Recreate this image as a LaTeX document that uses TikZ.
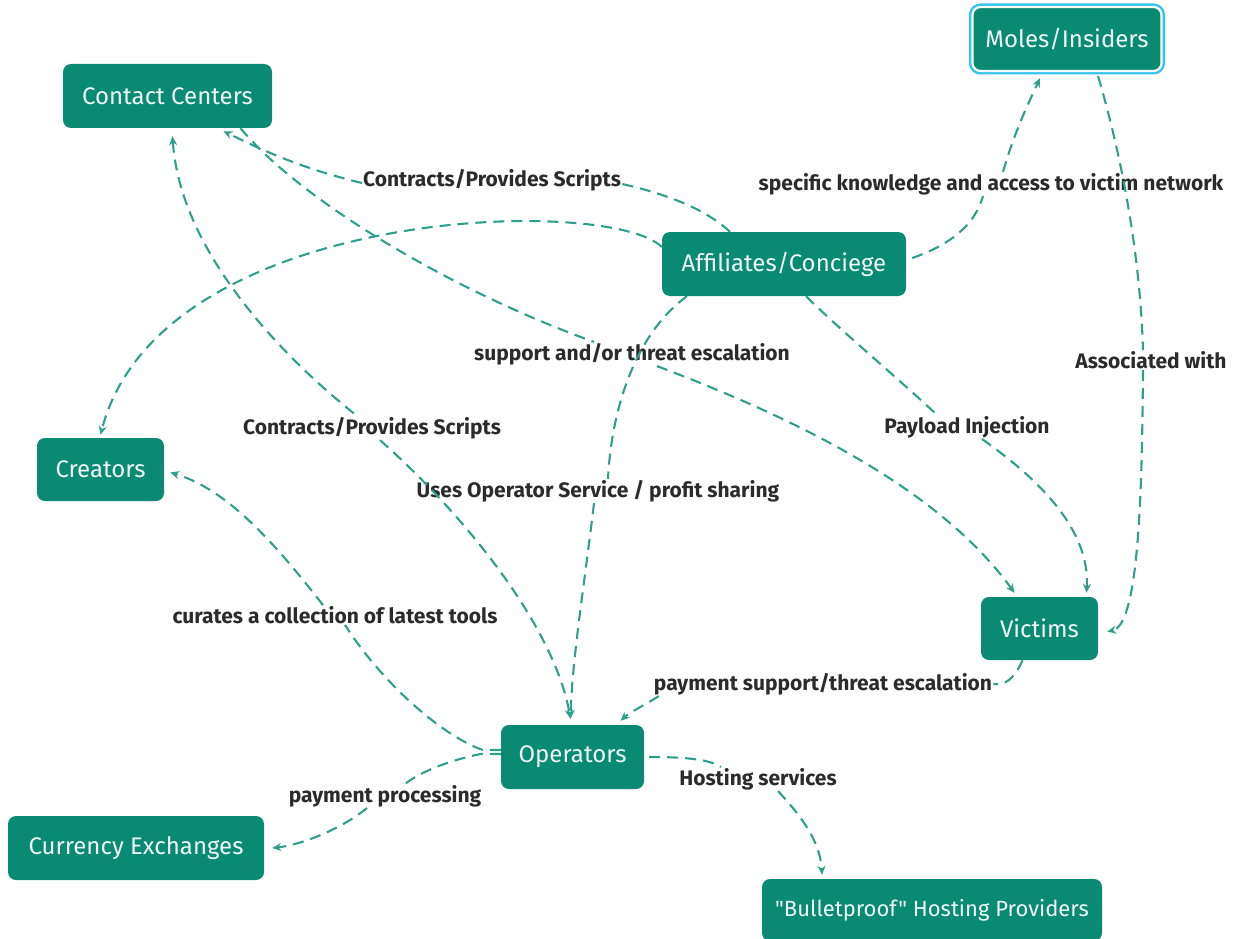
\documentclass[tikz,border=0pt]{standalone}
\usepackage{fontspec}
\setmainfont{Fira Sans}
\newfontfamily\plainfs{Fira Sans}
\usetikzlibrary{arrows.meta}
\definecolor{boxteal}{HTML}{0A8A73}
\definecolor{linteal}{HTML}{2F9E8C}
\definecolor{ringblue}{HTML}{33C3F0}
\definecolor{lbltext}{HTML}{2B2B2B}
\definecolor{boxtext}{HTML}{EEF8F5}
\tikzset{
  entity/.style={rectangle, rounded corners=8pt, fill=boxteal, text=boxtext, inner sep=0pt,
    font=\fontsize{24}{28}\selectfont, minimum height=64pt},
  selected/.style={draw=white, line width=2.2pt, preaction={draw=ringblue, line width=7pt}},
  lbl/.style={text=lbltext, inner sep=1pt, font=\bfseries\fontsize{21}{25}\selectfont},
  conn/.style={draw=linteal, line width=2.1pt, dash pattern=on 11pt off 7pt},
  tip/.style={-{Stealth[length=9pt,width=8pt]}},
}
\begin{document}
\begin{tikzpicture}[x=1pt,y=-1pt]
\useasboundingbox (0,0) rectangle (1236,939);
% entities
\node[entity, minimum width=209pt] (cc) at (167.5,96) {Contact Centers};
\node[entity, selected, minimum width=189pt] (moles) at (1067,39) {Moles/Insiders};
\node[entity, minimum width=244pt] (aff) at (784,264) {Affiliates/Conciege};
\node[entity, minimum width=127pt, minimum height=63pt] (cre) at (100.5,469.5) {Creators};
\node[entity, minimum width=117pt, minimum height=63pt] (vic) at (1039.5,628.5) {Victims};
\node[entity, minimum width=143pt] (op) at (572.5,757) {Operators};
\node[entity, minimum width=256pt] (cur) at (136,848) {Currency Exchanges};
\node[entity, minimum width=340pt, minimum height=62pt, font=\fontsize{22}{26}\selectfont] (bp) at (932,910) {\plainfs "Bulletproof" Hosting Providers};
% labels
\node[lbl] (L1) at (492,180) {Contracts/Provides Scripts};
\node[lbl] (L3) at (372,428) {Contracts/Provides Scripts};
\node[lbl] (L4) at (632,354) {support and/or threat escalation};
\node[lbl] (L5) at (967,427) {Payload Injection};
\node[lbl] (L6) at (1151,360) {Associated with};
\node[lbl] (L7) at (991,184) {specific knowledge and access to victim network};
\node[lbl] (L8) at (335,615) {curates a collection of latest tools};
\node[lbl] (L9) at (385,796) {payment processing};
\node[lbl] (L10) at (823,684) {payment support/threat escalation};
\node[lbl] (L11) at (758,779) {Hosting services};
\node[lbl] (L12) at (598,491) {Uses Operator Service / profit sharing};
% connectors
% Affiliates -> Contact Centers
\draw[conn] ([xshift=-54pt]aff.north) .. controls (712,215) and (680,197) .. ([yshift=-4pt]L1.east);
\draw[conn,tip] ([yshift=-3pt]L1.west) .. controls (300,168) and (262,150) .. ([xshift=56pt,yshift=-3pt]cc.south);
% Affiliates -> Creators
\draw[conn,tip] ([yshift=17pt]aff.west) .. controls (610,195) and (160,205) .. ([yshift=3pt]cre.north);
% Contact Centers <-> Operators
\draw[conn,{Stealth[length=9pt,width=8pt]}-] ([xshift=5pt,yshift=-8pt]cc.south) .. controls (180,250) and (280,355) .. ([xshift=-15pt]L3.north);
\draw[conn,tip] ([xshift=8pt]L3.south) .. controls (470,520) and (555,630) .. ([xshift=-2pt,yshift=6pt]op.north);
% Contact Centers -> Victims
\draw[conn] ([xshift=73pt]cc.south) .. controls (300,200) and (450,290) .. ([xshift=-38pt]L4.north);
\draw[conn,tip] ([xshift=25pt]L4.south) .. controls (800,420) and (940,490) .. ([xshift=-25pt,yshift=4pt]vic.north);
% Affiliates -> Victims
\draw[conn] ([xshift=22pt]aff.south) .. controls (840,330) and (900,380) .. ([xshift=-30pt]L5.north);
\draw[conn,tip] ([xshift=15pt]L5.south) .. controls (1040,480) and (1090,530) .. ([xshift=47pt,yshift=4pt]vic.north);
% Moles -> Victims
\draw[conn] ([xshift=31pt,yshift=-4pt]moles.south) .. controls (1120,150) and (1140,250) .. ([xshift=-8pt]L6.north);
\draw[conn,tip] ([xshift=-8pt]L6.south) .. controls (1142,480) and (1140,625) .. ([xshift=9pt,yshift=-3pt]vic.east);
% Affiliates -> Moles
\draw[conn] ([xshift=6pt,yshift=6pt]aff.east) .. controls (950,245) and (975,225) .. ([xshift=-8pt]L7.south);
\draw[conn,tip] ([xshift=12pt]L7.north) .. controls (1015,130) and (1030,100) .. ([xshift=-27pt,yshift=-6pt]moles.south);
% Operators -> Creators
\draw[conn] ([yshift=7pt]op.west) -- ++(-18,0) .. controls (440,735) and (380,680) .. ([xshift=10pt]L8.south);
\draw[conn,tip] ([xshift=-12pt]L8.north) .. controls (280,550) and (230,490) .. ([xshift=6pt,yshift=-3pt]cre.east);
% Operators -> Currency Exchanges
\draw[conn] ([yshift=3pt]op.west) -- ++(-20,0) .. controls (450,760) and (420,772) .. ([xshift=20pt]L9.north);
\draw[conn,tip] ([xshift=-18pt]L9.south) .. controls (340,830) and (300,845) .. ([xshift=8pt]cur.east);
% Victims -> Operators
\draw[conn] ([xshift=-17pt]vic.south) .. controls (1015,678) and (1005,686) .. (L10.east);
\draw[conn,tip] ([xshift=6pt]L10.south west) .. controls (645,705) and (630,712) .. ([xshift=48pt,yshift=4pt]op.north);
% Affiliates -> Operators
\draw[conn] ([xshift=-97pt]aff.south) .. controls (640,330) and (612,400) .. ([xshift=10pt]L12.north);
\draw[conn,tip] ([xshift=-4pt]L12.south) .. controls (585,580) and (572,660) .. ([xshift=-2pt,yshift=6pt]op.north);
% Operators -> Bulletproof
\draw[conn] ([xshift=5pt]op.east) .. controls (690,757) and (710,760) .. ([xshift=-37pt]L11.north);
\draw[conn,tip] ([xshift=20pt]L11.south) .. controls (800,815) and (820,840) .. ([xshift=-110pt,yshift=4pt]bp.north);
\end{tikzpicture}
\end{document}
